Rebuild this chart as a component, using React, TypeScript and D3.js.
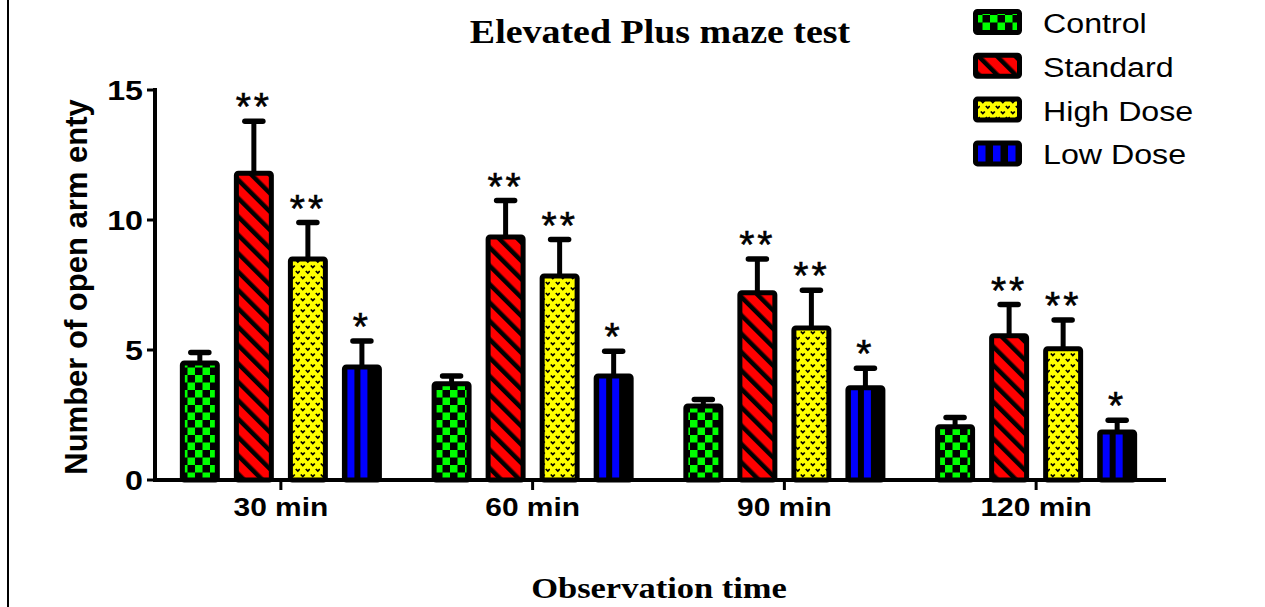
import React from "react";
import { scaleBand, scaleLinear } from "d3";

const times = ["30 min", "60 min", "90 min", "120 min"];
const groups = ["Control", "Standard", "High Dose", "Low Dose"];

const control = [4.5, 3.7, 2.85, 2.05];
const controlErr = [0.4, 0.3, 0.25, 0.35];
const standard = [11.8, 9.35, 7.2, 5.55];
const standardErr = [2.0, 1.4, 1.3, 1.2];
const highDose = [8.5, 7.85, 5.85, 5.05];
const highDoseErr = [1.4, 1.4, 1.45, 1.1];
const lowDose = [4.35, 4.0, 3.55, 1.85];
const lowDoseErr = [1.0, 0.95, 0.75, 0.45];

const stars = ["", "**", "**", "*"];
const yTicks = [0, 5, 10, 15];

const W = 1265;
const H = 607;
const SX = 1.15; // the source picture is stretched sideways
const sans = "'Liberation Sans', Arial, sans-serif";
const serif = "'Liberation Serif', 'Times New Roman', serif";

const series = [
  { name: groups[0], values: control, err: controlErr, fill: "url(#p-control)", legendFill: "url(#p-control)" },
  { name: groups[1], values: standard, err: standardErr, fill: "url(#p-standard)", legendFill: "url(#p-standard)" },
  { name: groups[2], values: highDose, err: highDoseErr, fill: "url(#p-high)", legendFill: "url(#p-high)" },
  { name: groups[3], values: lowDose, err: lowDoseErr, fill: "url(#p-low)", legendFill: "url(#p-low-leg)" },
];

const Txt = ({ x, y, size, anchor = "middle", family = sans, weight = "bold", sx = SX, children }: any) => (
  <text
    transform={`translate(${x},${y}) scale(${sx},1)`}
    textAnchor={anchor}
    fontSize={size}
    fontFamily={family}
    fontWeight={weight}
    fill="#000"
  >
    {children}
  </text>
);

export default function App() {
  const x0 = scaleBand().domain(times).range([155, 1162]).padding(0);
  const x1 = scaleBand()
    .domain(groups)
    .range([0, x0.bandwidth()])
    .paddingInner(0.26)
    .paddingOuter(0.46);
  const y = scaleLinear().domain([0, 15]).range([480, 90]);
  const bw = x1.bandwidth();

  return (
    <svg
      width={W}
      height={H}
      style={{ position: "absolute", left: 0, top: 0, background: "#fff" }}
    >
      <defs>
        <pattern id="p-control" patternUnits="userSpaceOnUse" width={15} height={15}>
          <rect width={15} height={15} fill="#000" />
          <rect width={7.5} height={7.5} fill="#00ff00" />
          <rect x={7.5} y={7.5} width={7.5} height={7.5} fill="#00ff00" />
        </pattern>
        <pattern
          id="p-standard"
          patternUnits="userSpaceOnUse"
          width={13}
          height={13}
          patternTransform="rotate(-45)"
        >
          <rect width={13} height={13} fill="#ff0000" />
          <rect width={4.5} height={13} fill="#000" />
        </pattern>
        <pattern id="p-high" patternUnits="userSpaceOnUse" width={10} height={11}>
          <rect width={10} height={11} fill="#ffff00" />
          <path d="M0.8,1.5 L2.8,3.6 L4.8,1.5" stroke="#000" strokeWidth={1.7} fill="none" />
          <path d="M5.8,7 L7.8,9.1 L9.8,7" stroke="#000" strokeWidth={1.7} fill="none" />
        </pattern>
        <pattern id="p-low" patternUnits="objectBoundingBox" width={1} height={1}>
          <rect width={60} height={600} fill="#000" />
          <rect x={3} width={7} height={600} fill="#0000ff" />
          <rect x={16} width={7} height={600} fill="#0000ff" />
        </pattern>
        <pattern id="p-low-leg" patternUnits="userSpaceOnUse" x={978} width={15} height={30}>
          <rect width={15} height={30} fill="#000" />
          <rect width={7.5} height={30} fill="#0000ff" />
        </pattern>
      </defs>

      {/* frame edge */}
      <line x1={8} x2={8} y1={0} y2={H} stroke="#000" strokeWidth={2} />

      <Txt x={660} y={43} size={33} family={serif}>
        Elevated Plus maze test
      </Txt>

      {/* error bars */}
      {series.map((s, si) =>
        times.map((t, i) => {
          const cx = (x0(t) as number) + (x1(s.name) as number) + bw / 2;
          const top = y(s.values[i] + s.err[i]);
          return (
            <g key={`e-${si}-${i}`}>
              <line x1={cx} x2={cx} y1={y(s.values[i])} y2={top} stroke="#000" strokeWidth={5} />
              <line
                x1={cx - 9}
                x2={cx + 9}
                y1={top}
                y2={top}
                stroke="#000"
                strokeWidth={5.5}
                strokeLinecap="round"
              />
            </g>
          );
        })
      )}

      {/* bars */}
      {series.map((s, si) =>
        times.map((t, i) => (
          <rect
            key={`b-${si}-${i}`}
            x={(x0(t) as number) + (x1(s.name) as number) + 2.5}
            y={y(s.values[i])}
            width={bw - 5}
            height={y(0) - y(s.values[i])}
            fill={s.fill}
            stroke="#000"
            strokeWidth={5}
            rx={2}
          />
        ))
      )}

      {/* significance marks */}
      {series.map((s, si) =>
        stars[si]
          ? times.map((t, i) => (
              <text
                key={`s-${si}-${i}`}
                x={(x0(t) as number) + (x1(s.name) as number) + bw / 2}
                y={y(s.values[i] + s.err[i]) - 1}
                textAnchor="middle"
                fontSize={39}
                fontFamily={sans}
                letterSpacing={3}
                fill="#000"
                stroke="#000"
                strokeWidth={0.6}
              >
                {stars[si]}
              </text>
            ))
          : null
      )}

      {/* y axis */}
      <line x1={155} x2={155} y1={y(15) - 2} y2={y(0) + 2} stroke="#000" strokeWidth={4} />
      {yTicks.map((v) => (
        <g key={`yt-${v}`}>
          <line x1={147} x2={155} y1={y(v)} y2={y(v)} stroke="#000" strokeWidth={3} />
          <Txt x={143} y={y(v) + 10} size={28} anchor="end">
            {v}
          </Txt>
        </g>
      ))}
      <text
        transform={`translate(87,${(y(0) + y(15)) / 2 + 2}) rotate(-90)`}
        textAnchor="middle"
        fontSize={31}
        fontFamily={sans}
        fontWeight="bold"
      >
        Number of open arm enty
      </text>

      {/* x axis */}
      <line x1={153} x2={1166} y1={y(0)} y2={y(0)} stroke="#000" strokeWidth={4} />
      {times.map((t) => {
        const cx = (x0(t) as number) + x0.bandwidth() / 2;
        return (
          <g key={`xt-${t}`}>
            <line x1={cx} x2={cx} y1={y(0)} y2={y(0) + 10} stroke="#000" strokeWidth={3} />
            <Txt x={cx} y={516} size={26}>
              {t}
            </Txt>
          </g>
        );
      })}
      <Txt x={659} y={598} size={30} family={serif}>
        Observation time
      </Txt>

      {/* legend */}
      {series.map((s, i) => {
        const cy = 22 + i * 43.8;
        return (
          <g key={`lg-${i}`}>
            <rect
              x={975.5}
              y={cy - 10.5}
              width={44}
              height={21}
              fill={s.legendFill}
              stroke="#000"
              strokeWidth={5}
              rx={2}
            />
            <Txt x={1043} y={cy + 11} size={28} weight="normal" anchor="start">
              {s.name}
            </Txt>
          </g>
        );
      })}
    </svg>
  );
}
